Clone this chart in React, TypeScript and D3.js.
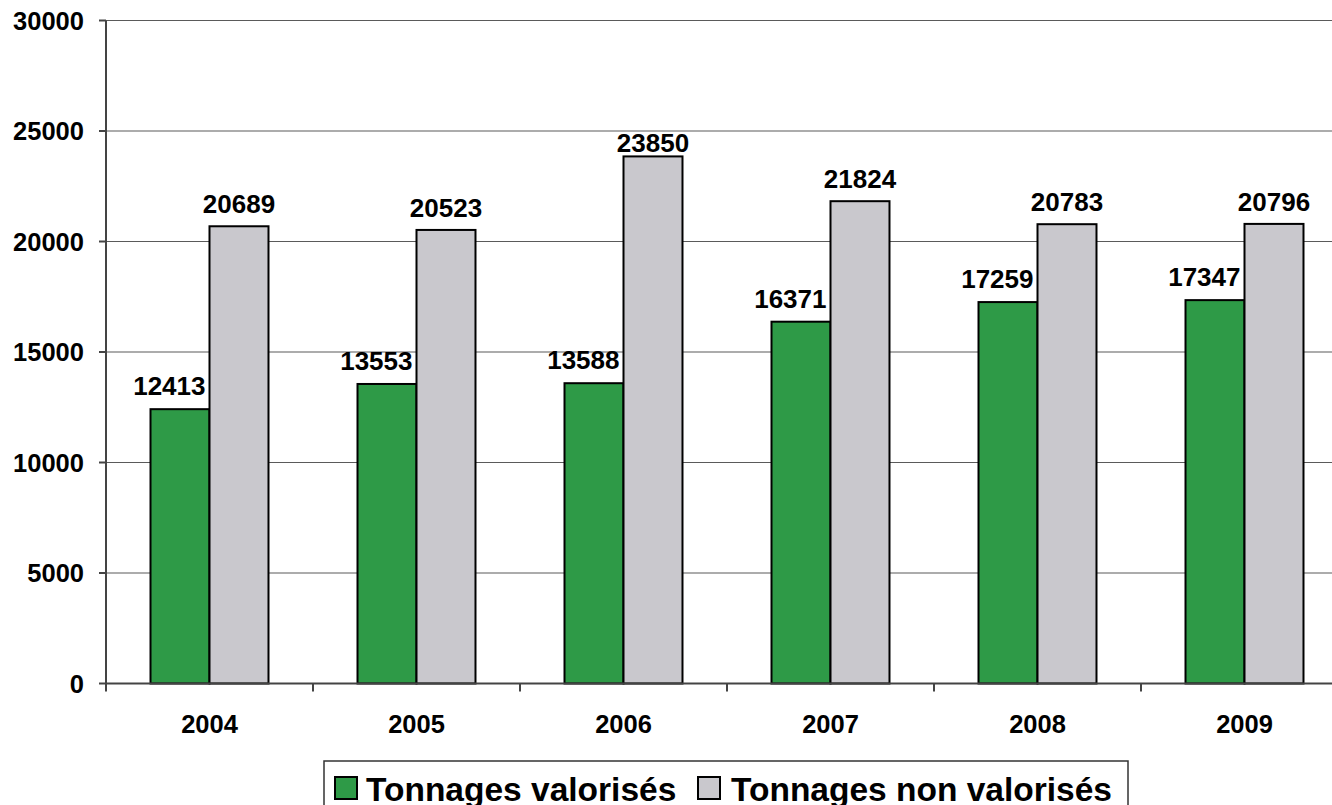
import React from 'react';
import * as d3 from 'd3';

const years = ['2004', '2005', '2006', '2007', '2008', '2009'];
const valorises = [12413, 13553, 13588, 16371, 17259, 17347];
const nonValorises = [20689, 20523, 23850, 21824, 20783, 20796];
const yTicks = [0, 5000, 10000, 15000, 20000, 25000, 30000];
const seriesNames = ['Tonnages valorisés', 'Tonnages non valorisés'];
const seriesColors = ['#2e9a47', '#c9c8cd'];

const WIDTH = 1332;
const HEIGHT = 805;
const FONT = '"Liberation Sans", Arial, sans-serif';

const App: React.FC = () => {
  const left = 106;
  const x = d3.scaleBand<string>()
    .domain(years)
    .range([left, left + 207 * years.length])
    .paddingInner(0.43)
    .paddingOuter(0.215);
  const step = x.step();
  const sub = d3.scaleBand<number>().domain([0, 1]).range([0, x.bandwidth()]);

  const y = d3.scaleLinear().domain([0, 30000]).range([683.5, 20.5]);

  const series = [valorises, nonValorises];

  return (
    <svg
      width={WIDTH}
      height={HEIGHT}
      style={{ position: 'absolute', left: 0, top: 0, display: 'block', background: '#fff' }}
      fontFamily={FONT}
    >
      {/* gridlines */}
      {yTicks.filter(t => t > 0).map(t => (
        <line key={'g' + t} x1={left} x2={WIDTH} y1={y(t)} y2={y(t)} stroke="#5a5a5a" strokeWidth={1.2} />
      ))}

      {/* bars */}
      {years.map((yr, i) => (
        <g key={yr}>
          {series.map((s, k) => (
            <rect
              key={k}
              x={(x(yr) as number) + (sub(k) as number)}
              y={y(s[i])}
              width={sub.bandwidth()}
              height={y(0) - y(s[i])}
              fill={seriesColors[k]}
              stroke="#000"
              strokeWidth={2}
            />
          ))}
        </g>
      ))}

      {/* value labels */}
      {years.map((yr, i) => {
        const gx = x(yr) as number;
        const g = valorises[i];
        const n = nonValorises[i];
        return (
          <g key={'l' + yr} fontSize={26} fontWeight="bold" fill="#000">
            <text x={gx + sub.bandwidth() - 4} y={y(g) - 14} textAnchor="end">{g}</text>
            <text x={gx + sub.bandwidth() * 1.5} y={Math.max(y(n) - 13, 152)} textAnchor="middle">{n}</text>
          </g>
        );
      })}

      {/* axes */}
      <line x1={left} x2={left} y1={y(30000)} y2={y(0)} stroke="#444" strokeWidth={2} />
      <line x1={left} x2={WIDTH} y1={y(0)} y2={y(0)} stroke="#444" strokeWidth={2} />
      {yTicks.map(t => (
        <g key={'y' + t}>
          <line x1={left - 7} x2={left} y1={y(t)} y2={y(t)} stroke="#444" strokeWidth={2} />
          <text x={84} y={y(t) + 9} textAnchor="end" fontSize={25.5} fontWeight="bold">{t}</text>
        </g>
      ))}
      {d3.range(years.length + 1).map(i => (
        <line key={'xt' + i} x1={left + i * step} x2={left + i * step} y1={y(0)} y2={y(0) + 8} stroke="#444" strokeWidth={2} />
      ))}
      {years.map(yr => (
        <text key={'xl' + yr} x={(x(yr) as number) + x.bandwidth() / 2} y={733} textAnchor="middle" fontSize={25.5} fontWeight="bold">{yr}</text>
      ))}

      {/* legend */}
      <rect x={324} y={761} width={804} height={60} fill="#fff" stroke="#333" strokeWidth={1.5} />
      <rect x={335} y={777} width={22} height={22} fill={seriesColors[0]} stroke="#000" strokeWidth={2} />
      <text x={366} y={801} fontSize={33.5} fontWeight="bold">{seriesNames[0]}</text>
      <rect x={698} y={777} width={22} height={22} fill={seriesColors[1]} stroke="#000" strokeWidth={2} />
      <text x={731} y={801} fontSize={33.5} fontWeight="bold">{seriesNames[1]}</text>
    </svg>
  );
};

export default App;
